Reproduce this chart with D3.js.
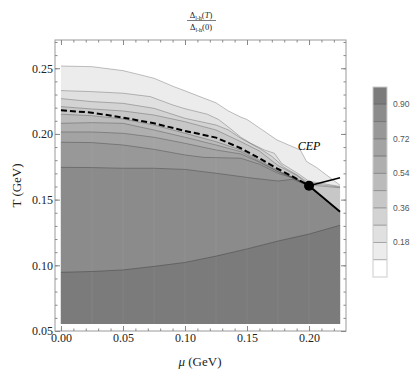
<!DOCTYPE html>
<html>
<head>
<meta charset="utf-8">
<script src="https://cdn.jsdelivr.net/npm/d3@7"></script>
<style>
  body { margin: 0; background: #fff; }
  svg { display: block; }
  .serif { font-family: "Liberation Serif", "DejaVu Serif", serif; }
  .axis text { font-family: "Liberation Serif", "DejaVu Serif", serif; font-size: 12px; fill: #222; }
  .legend text { font-family: "Liberation Sans", Arial, sans-serif; font-size: 8.5px; fill: #555; }
</style>
</head>
<body>
<svg id="chart" width="415" height="379"></svg>
<script>
// contour levels of Delta(T)/Delta(0), and the grey for the band just above each level
const levels = [0, 0.09, 0.18, 0.27, 0.36, 0.45, 0.54, 0.63, 0.72, 0.81, 0.90, 0.99]
const legendLabels = [0.18, 0.36, 0.54, 0.72, 0.90]
const bandGreys = ['#ffffff', '#ececec', '#e0e0e0', '#d3d3d3', '#c7c7c7', '#bbbbbb',
                   '#afafaf', '#a3a3a3', '#989898', '#8b8b8b', '#7b7b7b']

// contour boundaries, [mu, T] in GeV (level 0.09 ... 0.90)
const c009 = [[0,0.2517],[0.025,0.2512],[0.05,0.2482],[0.061,0.2457],[0.075,0.2424],[0.091,0.2360],[0.1,0.2328],[0.112,0.2284],[0.125,0.2237],[0.135,0.2175],[0.145,0.2128],[0.15,0.2110],[0.16,0.2046],[0.174,0.1955],[0.185,0.1910],[0.193,0.1878],[0.198,0.1790],[0.206,0.1745],[0.225,0.1610]]
const c018 = [[0,0.2330],[0.025,0.2322],[0.05,0.2310],[0.072,0.2284],[0.09,0.2221],[0.1,0.2192],[0.118,0.2150],[0.127,0.2110],[0.136,0.2045],[0.145,0.1975],[0.153,0.1929],[0.164,0.1878],[0.172,0.1853],[0.178,0.1775],[0.19,0.1705],[0.2,0.1640],[0.225,0.1600]]
const c027 = [[0,0.2269],[0.025,0.2246],[0.05,0.2233],[0.075,0.2195],[0.1,0.2119],[0.125,0.2068],[0.135,0.2030],[0.145,0.1967],[0.16,0.1890],[0.17,0.1830],[0.18,0.1745],[0.19,0.1690],[0.2,0.1625],[0.225,0.1595]]
const c036 = [[0,0.2208],[0.025,0.2190],[0.05,0.2175],[0.075,0.2144],[0.1,0.2093],[0.125,0.2030],[0.145,0.1941],[0.16,0.1870],[0.175,0.1760],[0.19,0.1685],[0.2,0.1612],[0.225,0.1590]]
const c045 = [[0,0.2150],[0.025,0.2139],[0.05,0.2114],[0.075,0.2068],[0.1,0.2005],[0.125,0.1941],[0.145,0.1878],[0.16,0.1800],[0.175,0.1722],[0.19,0.1655],[0.2,0.1603],[0.225,0.1408]]
const c054 = [[0,0.2081],[0.025,0.2086],[0.05,0.2081],[0.075,0.2030],[0.1,0.1975],[0.125,0.1916],[0.145,0.1865],[0.16,0.1790],[0.175,0.1715],[0.19,0.1650],[0.2,0.1602],[0.225,0.1408]]
const c063 = [[0,0.2015],[0.025,0.2015],[0.05,0.2005],[0.075,0.1975],[0.1,0.1929],[0.125,0.1878],[0.145,0.1848],[0.16,0.1785],[0.175,0.1712],[0.19,0.1660],[0.2,0.1601],[0.225,0.1408]]
const c072 = [[0,0.1937],[0.025,0.1934],[0.05,0.1916],[0.075,0.1883],[0.1,0.1840],[0.115,0.1822],[0.145,0.1815],[0.16,0.1770],[0.175,0.1700],[0.187,0.1665],[0.197,0.1620],[0.2,0.1600],[0.225,0.1408]]
const c081 = [[0,0.1746],[0.025,0.1744],[0.05,0.1739],[0.075,0.1739],[0.1,0.1730],[0.125,0.1701],[0.155,0.1663],[0.175,0.1642],[0.187,0.1655],[0.197,0.1615],[0.2,0.1598],[0.225,0.1408]]
const c090 = [[0,0.0947],[0.025,0.0953],[0.05,0.0965],[0.075,0.0992],[0.1,0.1022],[0.125,0.1070],[0.15,0.1125],[0.175,0.1185],[0.2,0.1238],[0.225,0.1305]]
const contours = [c009, c018, c027, c036, c045, c054, c063, c072, c081, c090]

// transition lines
const crossover = [[0,0.218],[0.025,0.2162],[0.05,0.2124],[0.075,0.2081],[0.1,0.2023],[0.125,0.1972],[0.145,0.1891],[0.16,0.1815],[0.175,0.1733],[0.187,0.1675],[0.2,0.1606]]
const firstOrder = [[0.2,0.1606],[0.225,0.1408]]
const upperLine = [[0.2,0.1606],[0.225,0.1667]]
const cep = [0.2, 0.1606]

const tBottom = 0.0553
const xMajor = [0, 0.05, 0.10, 0.15, 0.20]
const yMajor = [0.05, 0.10, 0.15, 0.20, 0.25]

const svg = d3.select('#chart')
const frame = {left: 55, right: 346, top: 40, bottom: 331}

const x = d3.scaleLinear().domain([-0.0048, 0.2298]).range([frame.left, frame.right])
const y = d3.scaleLinear().domain([0.05, 0.2715]).range([frame.bottom, frame.top])

const area = d3.area()
  .x(d => x(d[0]))
  .y0(y(tBottom))
  .y1(d => y(d[1]))
const line = d3.line()
  .x(d => x(d[0]))
  .y(d => y(d[1]))

// filled bands, light to dark
contours.forEach((c, i) => {
  svg.append('path')
    .datum(c)
    .attr('fill', bandGreys[i + 1])
    .attr('d', area)
})

// faint mesh seams
svg.append('g')
  .selectAll('line')
  .data(d3.range(1, 9).map(i => i * 0.025))
  .enter()
  .append('line')
  .attr('x1', d => x(d)).attr('x2', d => x(d))
  .attr('y1', y(tBottom)).attr('y2', y(0.26))
  .attr('stroke', '#fff')
  .attr('stroke-opacity', 0.06)

// contour lines
svg.append('g')
  .selectAll('path')
  .data(contours)
  .enter()
  .append('path')
  .attr('fill', 'none')
  .attr('stroke', '#000')
  .attr('stroke-opacity', 0.3)
  .attr('stroke-width', 0.8)
  .attr('d', line)

// frame + ticks
svg.append('rect')
  .attr('x', frame.left).attr('y', frame.top)
  .attr('width', frame.right - frame.left).attr('height', frame.bottom - frame.top)
  .attr('fill', 'none').attr('stroke', '#999')

const xMinor = d3.range(0, 0.2295, 0.01)
const yMinor = d3.range(0.05, 0.271, 0.01)

function ticks(axisFn, scale, vals, size, labels, translate) {
  const a = axisFn(scale).tickValues(vals).tickSizeInner(-size).tickSizeOuter(0).tickPadding(2)
  if (labels) a.tickFormat(d3.format('.2f'))
  else a.tickFormat('')
  const g = svg.append('g').attr('class', 'axis').attr('transform', translate).call(a)
  g.select('.domain').remove()
  g.selectAll('.tick line').attr('stroke', '#888')
  return g
}
ticks(d3.axisBottom, x, xMinor, 2.5, false, `translate(0,${frame.bottom})`)
ticks(d3.axisBottom, x, xMajor, 5, true, `translate(0,${frame.bottom})`)
ticks(d3.axisTop, x, xMinor, 2.5, false, `translate(0,${frame.top})`)
ticks(d3.axisTop, x, xMajor, 5, false, `translate(0,${frame.top})`)
ticks(d3.axisLeft, y, yMinor, 2.5, false, `translate(${frame.left},0)`)
ticks(d3.axisLeft, y, yMajor, 5, true, `translate(${frame.left},0)`)
ticks(d3.axisRight, y, yMinor, 2.5, false, `translate(${frame.right},0)`)
ticks(d3.axisRight, y, yMajor, 5, false, `translate(${frame.right},0)`)

// transition lines and CEP
svg.append('path').datum(crossover)
  .attr('fill', 'none').attr('stroke', '#000').attr('stroke-width', 2)
  .attr('stroke-dasharray', '6,3').attr('d', line)
svg.append('path').datum(firstOrder)
  .attr('fill', 'none').attr('stroke', '#000').attr('stroke-width', 1.8).attr('d', line)
svg.append('path').datum(upperLine)
  .attr('fill', 'none').attr('stroke', '#000').attr('stroke-width', 1.5).attr('d', line)
svg.append('circle')
  .attr('cx', x(cep[0])).attr('cy', y(cep[1])).attr('r', 5).attr('fill', '#000')
svg.append('text').attr('class', 'serif')
  .attr('x', x(cep[0])).attr('y', y(0.1667) - 28)
  .attr('text-anchor', 'middle').attr('font-size', 12).attr('font-style', 'italic')
  .text('CEP')

// axis titles
svg.append('text').attr('class', 'serif')
  .attr('transform', `translate(21,${(frame.top + frame.bottom) / 2}) rotate(-90)`)
  .attr('text-anchor', 'middle').attr('font-size', 13).attr('fill', '#222')
  .text('T (GeV)')
const xt = svg.append('text').attr('class', 'serif')
  .attr('x', 200).attr('y', 366)
  .attr('text-anchor', 'middle').attr('font-size', 13).attr('fill', '#222')
xt.append('tspan').attr('font-style', 'italic').text('μ')
xt.append('tspan').text(' (GeV)')

// title fraction
const num = svg.append('text').attr('class', 'serif')
  .attr('x', 201).attr('y', 18).attr('text-anchor', 'middle').attr('font-size', 8.5).attr('fill', '#222')
num.append('tspan').text('Δ')
num.append('tspan').attr('font-size', 6).attr('dy', 2).text('l-h')
num.append('tspan').attr('dy', -2).text('(')
num.append('tspan').attr('font-style', 'italic').text('T')
num.append('tspan').text(')')
svg.append('line').attr('x1', 187).attr('x2', 216).attr('y1', 20.5).attr('y2', 20.5)
  .attr('stroke', '#222').attr('stroke-width', 0.6)
const den = svg.append('text').attr('class', 'serif')
  .attr('x', 201).attr('y', 30).attr('text-anchor', 'middle').attr('font-size', 8.5).attr('fill', '#222')
den.append('tspan').text('Δ')
den.append('tspan').attr('font-size', 6).attr('dy', 2).text('l-h')
den.append('tspan').attr('dy', -2).text('(0)')

// legend
const ly = d3.scaleLinear().domain([0, 0.99]).range([277, 87])
const lg = svg.append('g').attr('class', 'legend')
lg.selectAll('rect')
  .data(bandGreys)
  .enter()
  .append('rect')
  .attr('x', 373).attr('width', 14)
  .attr('y', (d, i) => ly(levels[i + 1]))
  .attr('height', (d, i) => ly(levels[i]) - ly(levels[i + 1]))
  .attr('fill', d => d)
lg.selectAll('line')
  .data(levels.slice(1, -1))
  .enter()
  .append('line')
  .attr('x1', 373).attr('x2', 387)
  .attr('y1', d => ly(d)).attr('y2', d => ly(d))
  .attr('stroke', '#000').attr('stroke-opacity', 0.3)
lg.append('rect')
  .attr('x', 373).attr('y', ly(0.99)).attr('width', 14).attr('height', ly(0) - ly(0.99))
  .attr('fill', 'none').attr('stroke', '#ccc')
lg.selectAll('text')
  .data(legendLabels)
  .enter()
  .append('text')
  .attr('x', 393).attr('y', d => ly(d)).attr('dy', '0.35em')
  .text(d => d.toFixed(2))
</script>
</body>
</html>
